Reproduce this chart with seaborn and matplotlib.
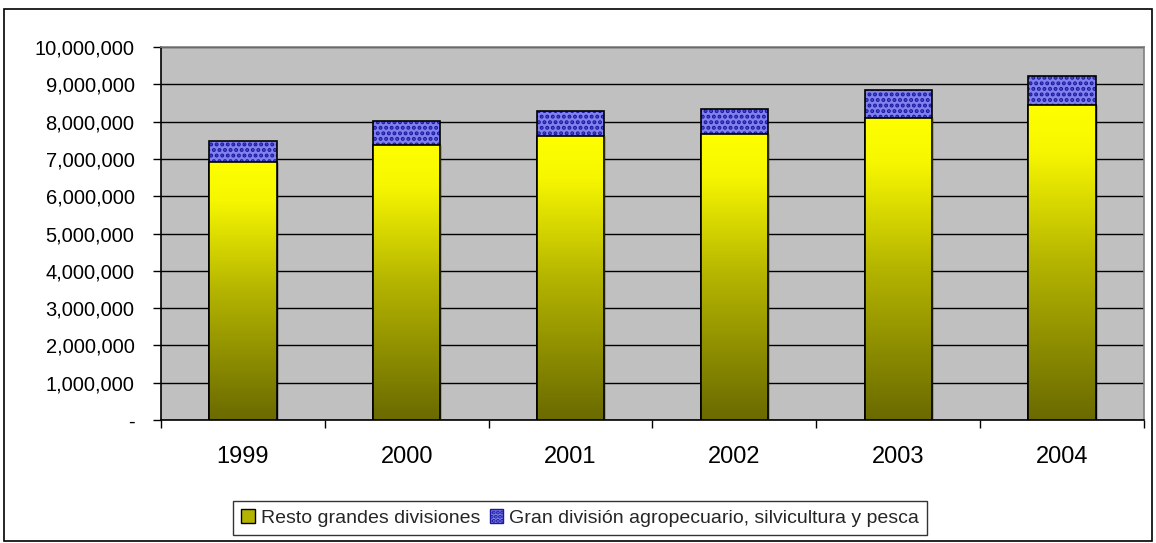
import numpy as np
import pandas as pd
import matplotlib
matplotlib.use("Agg")
import matplotlib.pyplot as plt
import seaborn as sns
from matplotlib.patches import Patch, Rectangle
from matplotlib.colors import LinearSegmentedColormap
from matplotlib.ticker import FuncFormatter

years = ["1999", "2000", "2001", "2002", "2003", "2004"]
resto = [6910000, 7360000, 7610000, 7670000, 8090000, 8440000]
agro = [580000, 650000, 680000, 680000, 770000, 770000]
label_resto = "Resto grandes divisiones"
label_agro = "Gran división agropecuario, silvicultura y pesca"

sns.set_theme(style="white")
plt.rcParams['font.family'] = ['Liberation Sans', 'DejaVu Sans']
plt.rcParams['hatch.linewidth'] = 2.0

df = pd.DataFrame({"year": years, "resto": resto, "agro": agro})
df["total"] = df["resto"] + df["agro"]

fig = plt.figure(figsize=(11.56, 5.43), dpi=100)
ax = fig.add_axes([161/1156, 123/543, (1144-161)/1156, (420-47)/543])
ax.set_facecolor("#C0C0C0")

# Blue top segments (total height), hatched
sns.barplot(data=df, x="year", y="total", ax=ax, color="#8282EE", width=0.41,
            edgecolor="#1A1AA0", linewidth=0, hatch="...", saturation=1, zorder=2)
blue_patches = list(ax.patches)
# Yellow base segments
sns.barplot(data=df, x="year", y="resto", ax=ax, color="#FFFF00", width=0.41,
            edgecolor="black", linewidth=1.0, saturation=1, zorder=3)
yellow_patches = list(ax.patches)[len(blue_patches):]

for p in blue_patches:
    ax.add_patch(Rectangle((p.get_x(), p.get_y()), p.get_width(), p.get_height(),
                           fill=False, edgecolor="black", linewidth=1.2, zorder=2.5))

cmap = LinearSegmentedColormap.from_list("g", [(0, "#6A6A00"), (0.5, "#B4B400"), (0.85, "#F6F600"), (1, "#FFFF00")])
grad = np.linspace(0, 1, 256).reshape(-1, 1)
for p in yellow_patches:
    x0, w, h = p.get_x(), p.get_width(), p.get_height()
    im = ax.imshow(grad, cmap=cmap, origin="lower", aspect="auto",
                   extent=(x0, x0 + w, 0, h), zorder=3.1, interpolation="bicubic")
    im.set_clip_path(p)
    ax.add_patch(Rectangle((x0, 0), w, h, fill=False, edgecolor="black", linewidth=1.2, zorder=3.2))

ax.set_xlim(-0.5, 5.5)
ax.set_ylim(0, 10000000)
ax.set_yticks(np.arange(0, 10000001, 1000000))
ax.yaxis.set_major_formatter(FuncFormatter(lambda v, p: "-" if v == 0 else f"{int(v):,}"))
ax.grid(axis="y", color="black", linewidth=1.0, zorder=1)
ax.set_axisbelow(True)
ax.set_xlabel("")
ax.set_ylabel("")

ax.set_xticks(range(6))
ax.set_xticklabels(years)
ax.set_xticks(np.arange(-0.5, 6, 1), minor=True)
ax.tick_params(axis="x", which="major", length=0, pad=19, labelsize=17, colors="black")
ax.tick_params(axis="x", which="minor", length=6, width=1, color="black", direction="out", bottom=True)
ax.tick_params(axis="y", length=6, width=1, color="black", direction="out", left=True, labelsize=14.5, pad=13)
for lab in ax.get_yticklabels() + ax.get_xticklabels():
    lab.set_color("black")

for s in ["left", "bottom"]:
    ax.spines[s].set_color("black")
    ax.spines[s].set_linewidth(1.2)
for s in ["top", "right"]:
    ax.spines[s].set_color("#808080")
    ax.spines[s].set_linewidth(1.2)

handles = [Patch(facecolor="#B4B400", edgecolor="black", label=label_resto),
           Patch(facecolor="#8282EE", edgecolor="#1A1AA0", hatch="....", label=label_agro)]
leg = fig.legend(handles=handles, loc="center", bbox_to_anchor=(580/1156, (543-518)/543),
                 ncol=2, frameon=True, fontsize=14, handlelength=0.7, handleheight=0.7,
                 handletextpad=0.3, columnspacing=0.5, borderpad=0.4, fancybox=False)
leg.get_frame().set_edgecolor("black")
leg.get_frame().set_linewidth(1.0)

fig.patches.append(Rectangle((4/1156, 2/543), 1148/1156, 532/543, transform=fig.transFigure,
                             fill=False, edgecolor="black", linewidth=1.2))

fig.savefig("out.png", dpi=100, facecolor="white")
